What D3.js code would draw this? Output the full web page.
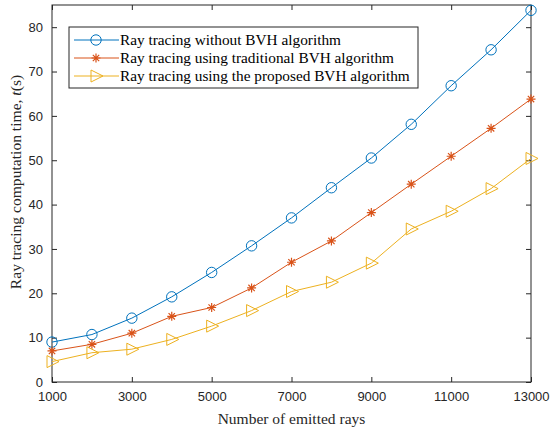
<!DOCTYPE html>
<html>
<head>
<meta charset="utf-8">
<script src="https://cdn.jsdelivr.net/npm/d3@7"></script>
<style>
  body { margin: 0; background: #fff; }
  .tick text { font-family: "Liberation Sans", Arial, sans-serif; font-size: 13px; fill: #262626; }
</style>
</head>
<body>
<div id="chart"></div>
<script>
var rays = [1000, 2000, 3000, 4000, 5000, 6000, 7000, 8000, 9000, 10000, 11000, 12000, 13000];
var noBvh = [9.0, 10.7, 14.4, 19.2, 24.7, 30.7, 37.0, 43.8, 50.5, 58.1, 66.8, 74.9, 83.8];
var tradBvh = [7.0, 8.5, 11.0, 14.8, 16.8, 21.2, 27.0, 31.8, 38.2, 44.6, 50.9, 57.2, 63.8];
var propBvh = [4.6, 6.6, 7.4, 9.6, 12.6, 16.1, 20.4, 22.5, 26.8, 34.5, 38.5, 43.6, 50.4];
var xTicks = [1000, 3000, 5000, 7000, 9000, 11000, 13000];
var yTicks = [0, 10, 20, 30, 40, 50, 60, 70, 80];
var names = [
  'Ray tracing without BVH algorithm',
  'Ray tracing using traditional BVH algorithm',
  'Ray tracing using the proposed BVH algorithm'
];
var colors = ['#0072BD', '#D95319', '#EDB120'];
var markers = ['circle', 'star', 'triangle'];

var W = 551, H = 430;
var margin = {top: 5, right: 20, bottom: 48, left: 52};
var width = W - margin.left - margin.right;
var height = H - margin.top - margin.bottom;

var x = d3.scaleLinear().domain([1000, 13000]).range([0, width]);
var y = d3.scaleLinear().domain([0, 85]).range([height, 0]);

var svg = d3.select('#chart').append('svg')
    .attr('width', W)
    .attr('height', H)
    .append('g')
    .attr('transform', 'translate(' + margin.left + ',' + margin.top + ')');

// box
svg.append('rect')
  .attr('width', width)
  .attr('height', height)
  .attr('fill', 'none')
  .attr('stroke', '#262626')
  .attr('stroke-width', 1);

// axes with inward ticks
function styleAxis(g) {
  g.select('.domain').remove();
  g.selectAll('.tick line').attr('stroke', '#262626');
}
svg.append('g')
  .attr('transform', 'translate(0,' + height + ')')
  .call(d3.axisBottom(x).tickValues(xTicks).tickSize(-5).tickPadding(10).tickFormat(d3.format('d')))
  .call(styleAxis);
svg.append('g')
  .call(d3.axisTop(x).tickValues(xTicks).tickSize(-5).tickFormat(''))
  .call(styleAxis);
svg.append('g')
  .call(d3.axisLeft(y).tickValues(yTicks).tickSize(-5).tickPadding(9))
  .call(styleAxis);
svg.append('g')
  .attr('transform', 'translate(' + width + ',0)')
  .call(d3.axisRight(y).tickValues(yTicks).tickSize(-5).tickFormat(''))
  .call(styleAxis);

var series = [noBvh, tradBvh, propBvh].map(function (vals, i) {
  return {
    name: names[i], color: colors[i], marker: markers[i],
    values: vals.map(function (v, j) { return {x: rays[j], y: v}; })
  };
});

var line = d3.line()
    .x(function (d) { return x(d.x); })
    .y(function (d) { return y(d.y); });

function drawMarker(g, type, color) {
  if (type === 'circle') {
    g.append('circle').attr('r', 5.2)
      .attr('fill', 'none').attr('stroke', color).attr('stroke-width', 1);
  } else if (type === 'star') {
    var r = 4.5;
    var p = '';
    [0, 45, 90, 135].forEach(function (a) {
      var rad = a * Math.PI / 180;
      p += 'M' + (-r * Math.cos(rad)) + ',' + (-r * Math.sin(rad)) +
           'L' + (r * Math.cos(rad)) + ',' + (r * Math.sin(rad));
    });
    g.append('path').attr('d', p)
      .attr('stroke', color).attr('stroke-width', 1.2).attr('fill', 'none');
  } else {
    g.append('path').attr('d', 'M-5,-6L7,0L-5,6Z')
      .attr('fill', 'none').attr('stroke', color).attr('stroke-width', 1);
  }
}

series.forEach(function (s) {
  svg.append('path')
    .datum(s.values)
    .attr('d', line)
    .attr('fill', 'none')
    .attr('stroke', s.color)
    .attr('stroke-width', 1);
  s.values.forEach(function (d) {
    var g = svg.append('g')
      .attr('transform', 'translate(' + x(d.x) + ',' + y(d.y) + ')');
    drawMarker(g, s.marker, s.color);
  });
});

// legend
var legend = svg.append('g').attr('transform', 'translate(17,22)');
legend.append('rect')
  .attr('width', 349)
  .attr('height', 61)
  .attr('fill', '#fff')
  .attr('stroke', '#262626')
  .attr('stroke-width', 1);
series.forEach(function (s, i) {
  var row = legend.append('g').attr('transform', 'translate(0,' + (13 + i * 18) + ')');
  row.append('line')
    .attr('x1', 5).attr('x2', 50)
    .attr('stroke', s.color).attr('stroke-width', 1);
  var m = row.append('g').attr('transform', 'translate(27,0)');
  drawMarker(m, s.marker, s.color);
  row.append('text')
    .attr('x', 51)
    .attr('dy', '0.35em')
    .style('font-family', '"Liberation Serif", "Times New Roman", serif')
    .style('font-size', '15.3px')
    .style('fill', '#000')
    .text(s.name);
});

// axis labels
svg.append('text')
  .attr('x', width / 2)
  .attr('y', height + 42)
  .attr('text-anchor', 'middle')
  .style('font-family', '"Liberation Serif", "Times New Roman", serif')
  .style('font-size', '15.5px')
  .style('fill', '#262626')
  .text('Number of emitted rays');

var yl = svg.append('text')
  .attr('transform', 'translate(-31,177) rotate(-90)')
  .attr('text-anchor', 'middle')
  .style('font-family', '"Liberation Serif", "Times New Roman", serif')
  .style('font-size', '15.6px')
  .style('fill', '#262626');
yl.append('tspan').text('Ray tracing computation time, ');
yl.append('tspan').style('font-style', 'italic').text('t');
yl.append('tspan').text('(s)');
</script>
</body>
</html>
